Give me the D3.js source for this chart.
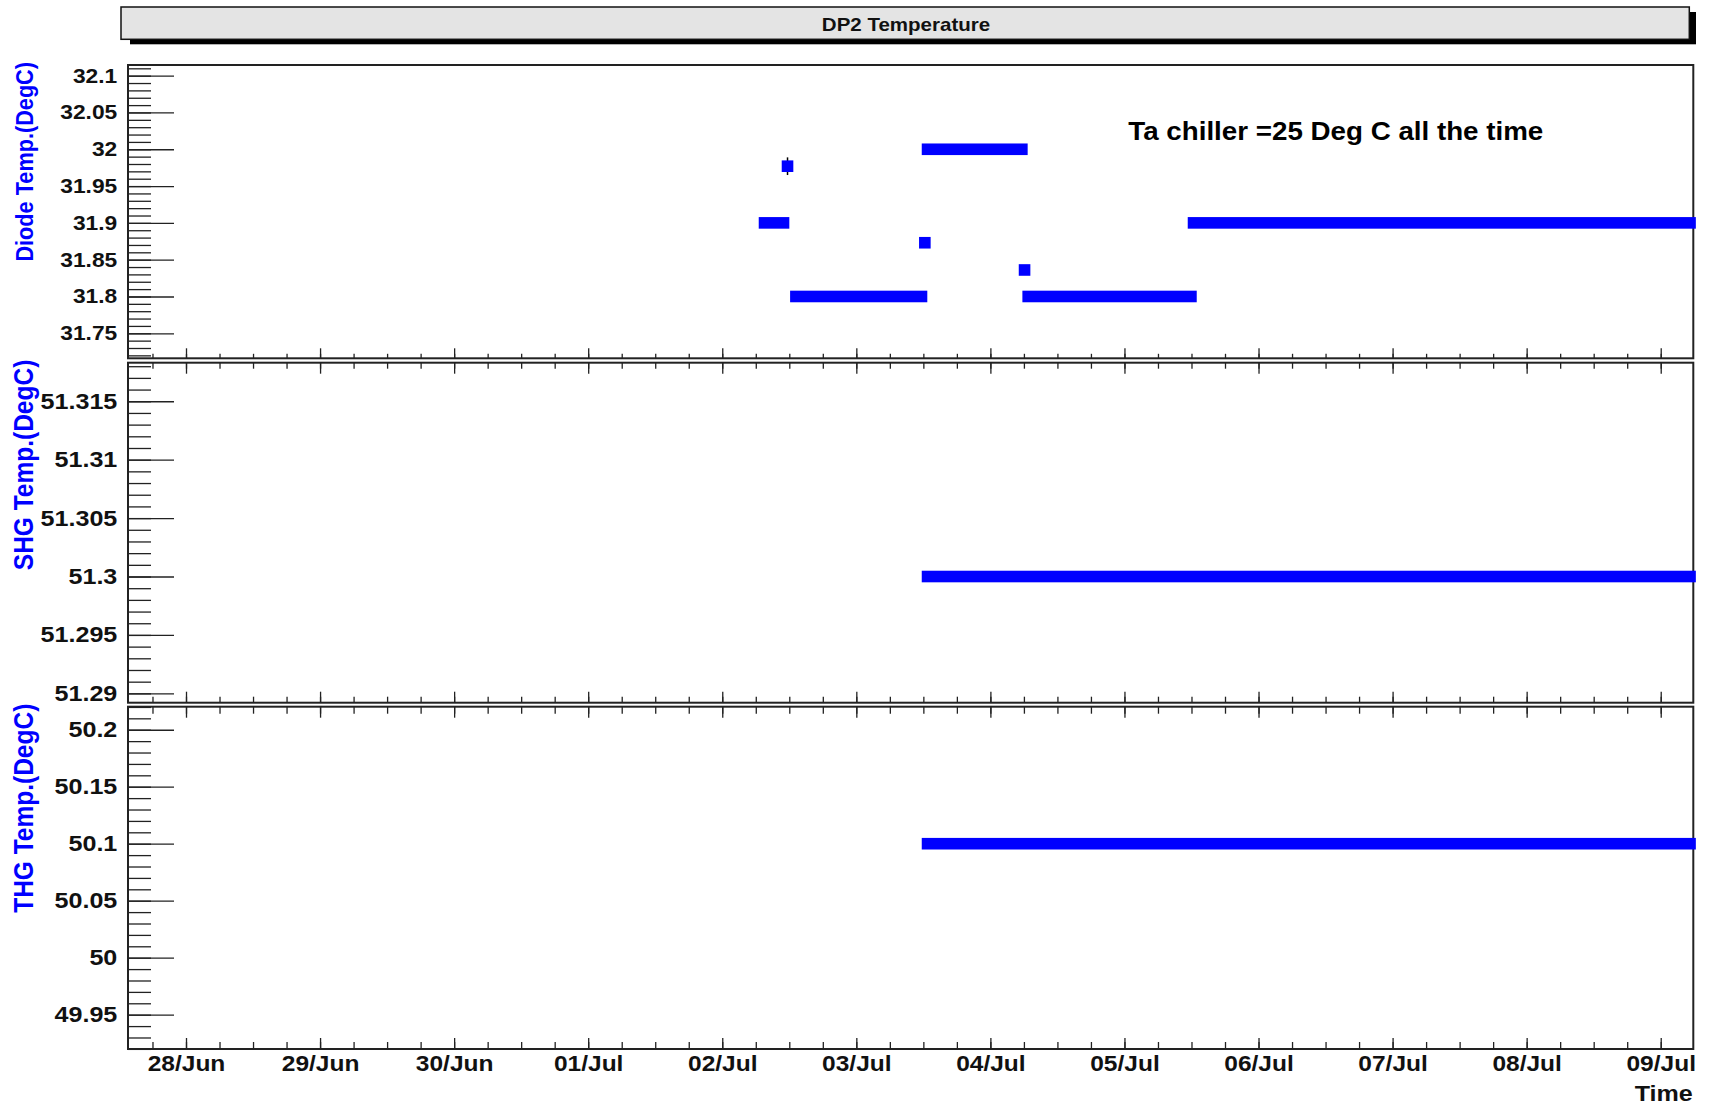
<!DOCTYPE html>
<html>
<head>
<meta charset="utf-8">
<script src="https://cdn.jsdelivr.net/npm/d3@7"></script>
<style>
  html, body { margin: 0; padding: 0; background: #fff; }
  svg { display: block; }
  text { font-family: "Liberation Sans", Arial, sans-serif; font-weight: bold; }
</style>
</head>
<body>
<svg id="chart" width="1712" height="1107"></svg>
<script>
// ---------------- data ----------------
const chartTitle = "DP2 Temperature";
const annotation = "Ta chiller =25 Deg C all the time";
const xTitle = "Time";

const timeDomain = ["2012-06-27T13:37", "2012-07-09T05:50"];

// Diode temperature: runs of constant readings (start, end, value)
const diodeSegStart = ["2012-07-02T07:34", "2012-07-02T13:11", "2012-07-03T12:45", "2012-07-04T06:46", "2012-07-05T12:22"];
const diodeSegEnd   = ["2012-07-02T10:58", "2012-07-03T11:40", "2012-07-04T05:38", "2012-07-05T11:54", "2012-07-09T05:15"];
const diodeSegValue = [31.90, 31.80, 32.00, 31.80, 31.90];
// isolated diode readings
const diodePointTime  = ["2012-07-02T11:41", "2012-07-03T12:16", "2012-07-04T06:07"];
const diodePointValue = [31.977, 31.873, 31.836];
const diodePointErr   = [0.012, 0, 0];

// SHG temperature
const shgSegStart = ["2012-07-03T12:45"];
const shgSegEnd   = ["2012-07-09T05:15"];
const shgSegValue = [51.300];

// THG temperature
const thgSegStart = ["2012-07-03T12:45"];
const thgSegEnd   = ["2012-07-09T05:15"];
const thgSegValue = [50.100];

// y tick labels
const diodeTicks = ["31.75", "31.8", "31.85", "31.9", "31.95", "32", "32.05", "32.1"];
const shgTicks   = ["51.29", "51.295", "51.3", "51.305", "51.31", "51.315"];
const thgTicks   = ["49.95", "50", "50.05", "50.1", "50.15", "50.2"];

// ---------------- layout ----------------
const parse = d3.utcParse("%Y-%m-%dT%H:%M");
const svg = d3.select("#chart");
const SX = 1.14;            // horizontal stretch of the original picture
const left = 128, right = 1693.3;
const markerSize = 11.6;
const blue = "#0000ff";

const x = d3.scaleUtc().domain(timeDomain.map(parse)).range([left, right]);

const panels = [
  { name: "diode", top: 65, bottom: 358.3, domain: [31.716, 32.1145], minorStep: 0.01,
    ticks: diodeTicks, title: "Diode Temp.(DegC)", titleSize: 21.7, labelSize: 20,
    seg: [diodeSegStart, diodeSegEnd, diodeSegValue], topTicks: false, xMajor: 10, xMinor: 4.5 },
  { name: "shg", top: 362.7, bottom: 702.7, domain: [51.2892, 51.3183], minorStep: 0.001,
    ticks: shgTicks, title: "SHG Temp.(DegC)", titleSize: 24.5, labelSize: 22,
    seg: [shgSegStart, shgSegEnd, shgSegValue], topTicks: true, xMajor: 11, xMinor: 6 },
  { name: "thg", top: 706.7, bottom: 1049, domain: [49.9199, 50.2202], minorStep: 0.01,
    ticks: thgTicks, title: "THG Temp.(DegC)", titleSize: 24.5, labelSize: 22,
    seg: [thgSegStart, thgSegEnd, thgSegValue], topTicks: true, xMajor: 11, xMinor: 7 }
];

function stretchTexts(sel) {
  sel.selectAll("text").each(function () {
    const t = d3.select(this);
    const tx = +t.attr("x") || 0;
    const ty = +t.attr("y") || 0;
    t.attr("x", 0).attr("y", 0)
     .attr("transform", `translate(${tx},${ty}) scale(${SX},1)`);
  });
}

// ---------------- title box ----------------
svg.append("rect").attr("x", 130).attr("y", 12).attr("width", 1566).attr("height", 32.3).attr("fill", "#000");
svg.append("rect").attr("x", 121).attr("y", 7).attr("width", 1568.3).attr("height", 32.3)
  .attr("fill", "#e4e4e4").attr("stroke", "#111").attr("stroke-width", 1.5);
svg.append("text").attr("transform", `translate(906,31) scale(${SX},1)`)
  .attr("text-anchor", "middle").attr("font-size", 18).attr("fill", "#111").text(chartTitle);

// ---------------- panels ----------------
panels.forEach((p, i) => {
  const y = d3.scaleLinear().domain(p.domain).range([p.bottom, p.top]);
  const g = svg.append("g").attr("class", "panel-" + p.name);

  // frame
  g.append("rect").attr("x", left).attr("y", p.top).attr("width", right - left).attr("height", p.bottom - p.top)
    .attr("fill", "#fff").attr("stroke", "#222").attr("stroke-width", 2);

  // y minor ticks
  const minorVals = d3.range(Math.ceil(p.domain[0] / p.minorStep - 1e-6), Math.floor(p.domain[1] / p.minorStep + 1e-6) + 1)
    .map(k => k * p.minorStep);
  const yMinor = g.append("g").attr("transform", `translate(${left},0)`)
    .call(d3.axisRight(y).tickValues(minorVals).tickSize(23).tickFormat(""));
  yMinor.select(".domain").remove();

  // y major ticks + labels
  const yMajor = g.append("g").attr("transform", `translate(${left},0)`)
    .call(d3.axisLeft(y).tickValues(p.ticks.map(Number)).tickSize(-46).tickPadding(10.7)
      .tickFormat((d, j) => p.ticks[j]));
  yMajor.select(".domain").remove();
  yMajor.selectAll("text").attr("font-size", p.labelSize).attr("fill", "#111")
    .attr("font-family", "Liberation Sans, Arial, sans-serif").attr("font-weight", "bold");
  stretchTexts(yMajor);

  // x ticks at panel bottom (pointing up)
  const xMinorB = g.append("g").attr("transform", `translate(0,${p.bottom})`)
    .call(d3.axisBottom(x).ticks(d3.utcHour.every(6)).tickSize(-p.xMinor).tickFormat(""));
  xMinorB.select(".domain").remove();
  const isLast = i === panels.length - 1;
  const xMajorB = g.append("g").attr("transform", `translate(0,${p.bottom})`)
    .call(d3.axisBottom(x).ticks(d3.utcDay.every(1)).tickSize(-p.xMajor).tickPadding(6.4)
      .tickFormat(isLast ? d3.utcFormat("%d/%b") : ""));
  xMajorB.select(".domain").remove();
  if (isLast) {
    xMajorB.selectAll("text").attr("font-size", 21.5).attr("fill", "#111")
      .attr("font-family", "Liberation Sans, Arial, sans-serif").attr("font-weight", "bold");
    stretchTexts(xMajorB);
  }

  // x ticks at panel top (pointing down)
  if (p.topTicks) {
    const xMinorT = g.append("g").attr("transform", `translate(0,${p.top})`)
      .call(d3.axisTop(x).ticks(d3.utcHour.every(6)).tickSize(-p.xMinor).tickFormat(""));
    xMinorT.select(".domain").remove();
    const xMajorT = g.append("g").attr("transform", `translate(0,${p.top})`)
      .call(d3.axisTop(x).ticks(d3.utcDay.every(1)).tickSize(-p.xMajor).tickFormat(""));
    xMajorT.select(".domain").remove();
  }
  g.selectAll(".tick line").attr("stroke", "#222").attr("stroke-width", 1.3);

  // y title
  g.append("text")
    .attr("transform", `translate(32.5,${p.top - 3}) scale(${SX},1) rotate(-90)`)
    .attr("text-anchor", "end").attr("font-size", p.titleSize).attr("fill", blue)
    .text(p.title);

  // data runs
  const [s, e, v] = p.seg;
  const runs = v.map((val, j) => ({ t0: parse(s[j]), t1: parse(e[j]), v: val }));
  g.append("g").selectAll("rect").data(runs).join("rect")
    .attr("x", d => x(d.t0) - markerSize / 2)
    .attr("width", d => x(d.t1) - x(d.t0) + markerSize)
    .attr("y", d => y(d.v) - markerSize / 2)
    .attr("height", markerSize)
    .attr("fill", blue);

  if (p.name === "diode") {
    const pts = diodePointValue.map((val, j) => ({ t: parse(diodePointTime[j]), v: val, err: diodePointErr[j] }));
    g.append("g").selectAll("line").data(pts.filter(d => d.err > 0)).join("line")
      .attr("x1", d => x(d.t)).attr("x2", d => x(d.t))
      .attr("y1", d => y(d.v + d.err)).attr("y2", d => y(d.v - d.err))
      .attr("stroke", "#000").attr("stroke-width", 1.5);
    g.append("g").selectAll("rect").data(pts).join("rect")
      .attr("x", d => x(d.t) - markerSize / 2)
      .attr("y", d => y(d.v) - markerSize / 2)
      .attr("width", markerSize).attr("height", markerSize)
      .attr("fill", blue);

    // annotation
    g.append("text").attr("x", 1128.3).attr("y", 140)
      .attr("font-family", "Lato, 'Open Sans', sans-serif").attr("font-weight", "bold")
      .attr("font-size", 26).attr("fill", "#000")
      .attr("textLength", 415).attr("lengthAdjust", "spacingAndGlyphs")
      .text(annotation);
  }
});

// x title
svg.append("text").attr("transform", `translate(1692.7,1100.7) scale(${SX},1)`)
  .attr("text-anchor", "end").attr("font-size", 22).attr("fill", "#111").text(xTitle);
</script>
</body>
</html>
